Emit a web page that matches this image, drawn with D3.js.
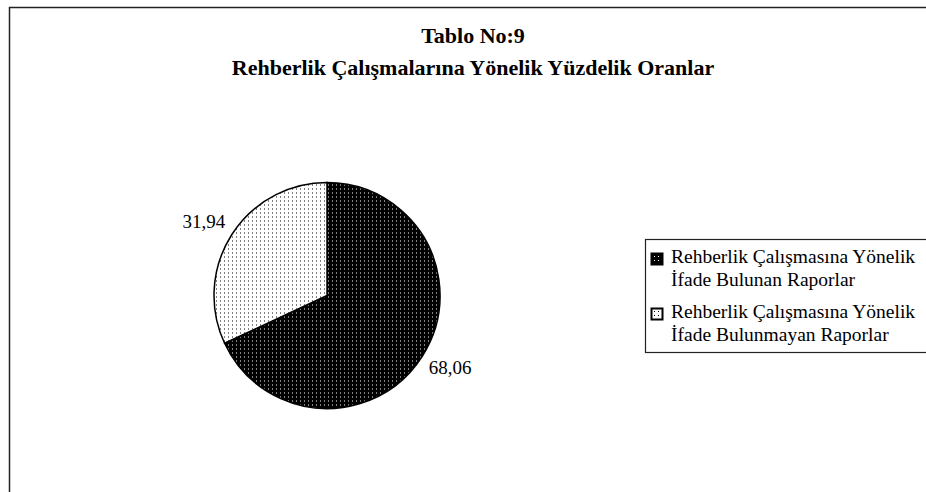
<!DOCTYPE html>
<html>
<head>
<meta charset="utf-8">
<script src="https://cdn.jsdelivr.net/npm/d3@7"></script>
<style>
body { margin: 0; background: #fff; }
text { font-family: "Liberation Serif", "Times New Roman", Times, serif; }
</style>
</head>
<body>
<div class="chart"></div>
<script>

var categories = ["Rehberlik Çalışmasına Yönelik İfade Bulunan Raporlar",
                  "Rehberlik Çalışmasına Yönelik İfade Bulunmayan Raporlar"];
var legendLines = [["Rehberlik Çalışmasına Yönelik", "İfade Bulunan Raporlar"],
                   ["Rehberlik Çalışmasına Yönelik", "İfade Bulunmayan Raporlar"]];
var values = [68.06, 31.94];
var valueLabels = ["68,06", "31,94"];
var titleLines = ["Tablo No:9", "Rehberlik Çalışmalarına Yönelik Yüzdelik Oranlar"];

var svgWidth = 926;
var svgHeight = 492;

var svg = d3
    .select(".chart")
    .append("svg")
    .attr("width", svgWidth)
    .attr("height", svgHeight);

// dotted fills
var defs = svg.append("defs");

var darkPat = defs.append("pattern")
    .attr("id", "dark")
    .attr("width", 4)
    .attr("height", 4)
    .attr("patternUnits", "userSpaceOnUse");
darkPat.append("rect").attr("width", 4).attr("height", 4).attr("fill", "#000");
darkPat.append("rect").attr("x", 1).attr("y", 1).attr("width", 1).attr("height", 1).attr("fill", "#fff");

var lightPat = defs.append("pattern")
    .attr("id", "light")
    .attr("width", 4)
    .attr("height", 4)
    .attr("patternUnits", "userSpaceOnUse");
lightPat.append("rect").attr("width", 4).attr("height", 4).attr("fill", "#fff");
lightPat.append("rect").attr("x", 1).attr("y", 1).attr("width", 1).attr("height", 1).attr("fill", "#000");

var fills = ["url(#dark)", "url(#light)"];

// outer frame (runs off right and bottom)
svg.append("rect")
    .attr("x", 9.5)
    .attr("y", 7.5)
    .attr("width", 960)
    .attr("height", 520)
    .attr("fill", "none")
    .attr("stroke", "#222")
    .attr("stroke-width", 1.5);

svg.selectAll(".title")
    .data(titleLines)
    .enter()
    .append("text")
    .attr("class", "title")
    .attr("x", 473)
    .attr("y", function(d, i) { return 43 + i * 32; })
    .attr("text-anchor", "middle")
    .style("font-size", "22px")
    .style("font-weight", "bold")
    .text(function(d) { return d; });

var cx = 327, cy = 295.5, radius = 113;

var pie = d3.pie()
    .sort(null)
    .value(function(d) { return d; });

var arc = d3.arc()
    .innerRadius(0)
    .outerRadius(radius);

var labelArc = d3.arc()
    .innerRadius(radius + 33)
    .outerRadius(radius + 33);

var chart = svg.append("g")
    .attr("transform", "translate(" + cx + "," + cy + ")");

var slices = pie(values);

chart.selectAll(".slice")
    .data(slices)
    .enter()
    .append("path")
    .attr("class", "slice")
    .attr("d", arc)
    .attr("fill", function(d, i) { return fills[i]; })
    .attr("stroke", "#000")
    .attr("stroke-width", 1.5);

// labels sit on a slightly flattened ring, like the original
chart.selectAll(".val")
    .data(slices)
    .enter()
    .append("text")
    .attr("class", "val")
    .attr("transform", function(d) {
        var c = labelArc.centroid(d);
        return "translate(" + c[0] + "," + (c[1] * 0.93) + ")";
    })
    .attr("dy", "0.3em")
    .attr("text-anchor", "middle")
    .style("font-size", "19px")
    .text(function(d, i) { return valueLabels[i]; });

// legend
var legend = svg.append("g")
    .attr("transform", "translate(645,239)");

legend.append("rect")
    .attr("x", 0.5)
    .attr("y", 0.5)
    .attr("width", 300)
    .attr("height", 113)
    .attr("fill", "#fff")
    .attr("stroke", "#222")
    .attr("stroke-width", 1.2);

var items = legend.selectAll(".item")
    .data(categories)
    .enter()
    .append("g")
    .attr("class", "item")
    .attr("transform", function(d, i) { return "translate(0," + (i * 55) + ")"; });

items.append("rect")
    .attr("x", 6.5)
    .attr("y", 14.5)
    .attr("width", 11)
    .attr("height", 11)
    .attr("fill", function(d, i) { return fills[i]; })
    .attr("stroke", "#000")
    .attr("stroke-width", 2);

items.selectAll("text")
    .data(function(d, i) { return legendLines[i]; })
    .enter()
    .append("text")
    .attr("x", 26)
    .attr("y", function(d, j) { return 24 + j * 23; })
    .style("font-size", "19.5px")
    .text(function(d) { return d; });

</script>
</body>
</html>
